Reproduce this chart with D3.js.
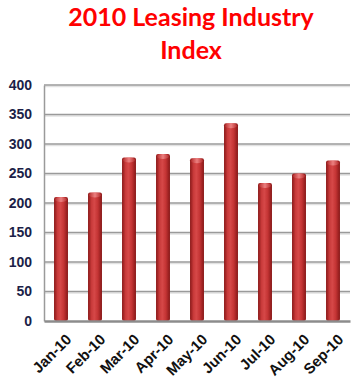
<!DOCTYPE html>
<html><head><meta charset="utf-8">
<script src="https://cdn.jsdelivr.net/npm/d3@7"></script>
<style>html,body{margin:0;padding:0;background:#fff;}</style>
</head><body>
<script>
const months = ["Jan-10","Feb-10","Mar-10","Apr-10","May-10","Jun-10","Jul-10","Aug-10","Sep-10"];
const values = [210, 218, 277, 283, 276, 335, 234, 250, 272];
const yTicks = [0, 50, 100, 150, 200, 250, 300, 350, 400];
const titleLines = ["2010 Leasing Industry", "Index"];

const W = 362, H = 384;
const m = {left: 44, right: 12, top: 85, bottom: 63};
const svg = d3.select("body").append("svg").attr("width", W).attr("height", H);

const defs = svg.append("defs");
const g1 = defs.append("linearGradient").attr("id","barGrad").attr("x1","0").attr("x2","1").attr("y1","0").attr("y2","0");
[["0%","#8a1818"],["25%","#c83a3a"],["45%","#d64848"],["70%","#c43434"],["100%","#861717"]]
  .forEach(([o,c]) => g1.append("stop").attr("offset",o).attr("stop-color",c));
const g2 = defs.append("linearGradient").attr("id","capGrad").attr("x1","0").attr("x2","1").attr("y1","0").attr("y2","0");
[["0%","#b83030"],["50%","#f08a8a"],["100%","#b83030"]]
  .forEach(([o,c]) => g2.append("stop").attr("offset",o).attr("stop-color",c));

const x = d3.scaleBand().domain(months).range([m.left, W - m.right]).paddingInner(0.59).paddingOuter(0.295);
const y = d3.scaleLinear().domain([0, 400]).range([H - m.bottom, m.top]);

// title
const title = svg.append("g").attr("font-family","Lato, 'Open Sans', sans-serif").attr("font-weight","bold")
  .attr("fill","#ff0000").attr("text-anchor","middle").attr("font-size", 25);
titleLines.forEach((t,i) => title.append("text").attr("x",191).attr("y",26 + i*33).text(t));

// gridlines
const grid = svg.append("g");
yTicks.filter(d => d > 0).forEach(d => {
  grid.append("line").attr("x1", m.left).attr("x2", W - m.right).attr("y1", y(d)+1.5).attr("y2", y(d)+1.5)
    .attr("stroke","#e2e2e2").attr("stroke-width",1.5);
  grid.append("line").attr("x1", m.left).attr("x2", W - m.right).attr("y1", y(d)).attr("y2", y(d))
    .attr("stroke","#9a9a9a").attr("stroke-width",1.5);
});

// axes
const yAxis = svg.append("g").attr("transform",`translate(${m.left},0)`)
  .call(d3.axisLeft(y).tickValues(yTicks).tickSize(0).tickPadding(12));
yAxis.select(".domain").attr("stroke","#9a9a9a").attr("stroke-width",1.5);
yAxis.selectAll("text").attr("font-family","'Liberation Sans', Arial, sans-serif").attr("font-weight","bold")
  .attr("font-size",14).attr("fill","#1c1f48");

// bars
const bars = svg.append("g");
bars.selectAll("rect.bar").data(values).join("rect").attr("class","bar")
  .attr("x",(d,i) => x(months[i])).attr("width", x.bandwidth())
  .attr("y", d => y(d)).attr("height", d => y(0) - y(d))
  .attr("rx", 2).attr("fill","url(#barGrad)");
bars.selectAll("ellipse.cap").data(values).join("ellipse").attr("class","cap")
  .attr("cx",(d,i) => x(months[i]) + x.bandwidth()/2).attr("cy", d => y(d) + 2.5)
  .attr("rx", x.bandwidth()/2 - 1).attr("ry", 2.5).attr("fill","url(#capGrad)").attr("opacity",0.85);

const xAxis = svg.append("g").attr("transform",`translate(0,${y(0)})`)
  .call(d3.axisBottom(x).tickSize(0).tickFormat(() => ""));
xAxis.select(".domain").attr("stroke","#8c8c8c").attr("stroke-width",2.5);

// x labels
svg.append("g").selectAll("text").data(months).join("text")
  .attr("transform", d => `translate(${x(d) + x.bandwidth()/2 + 4},${y(0) + 12}) rotate(-45)`)
  .attr("text-anchor","end").attr("dy","0.7em")
  .attr("font-family","'Liberation Sans', Arial, sans-serif").attr("font-weight","bold")
  .attr("font-size",15).attr("fill","#111")
  .text(d => d);
</script>
</body></html>
